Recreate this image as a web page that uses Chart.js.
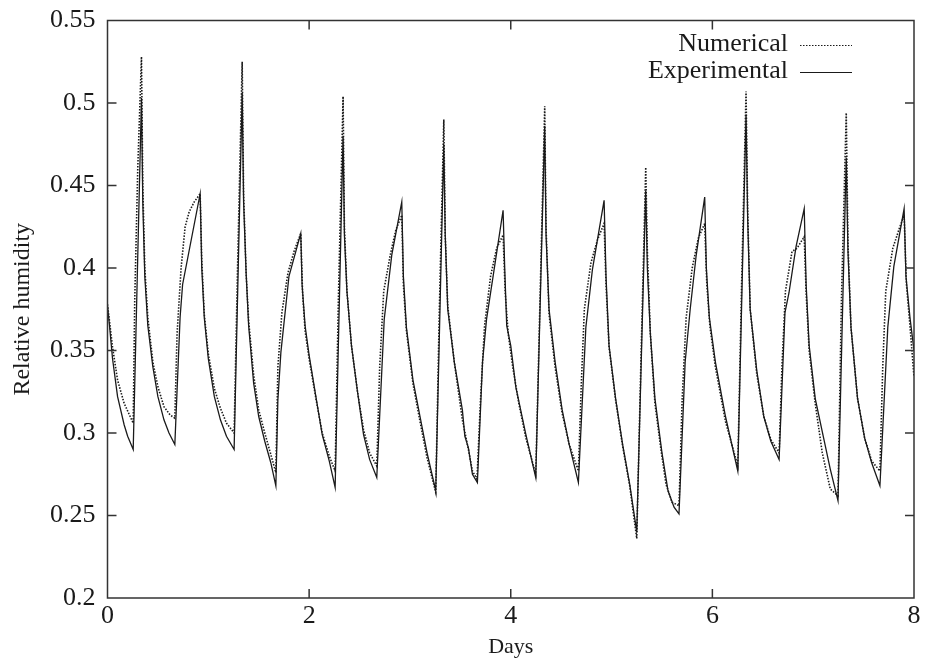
<!DOCTYPE html>
<html>
<head>
<meta charset="utf-8">
<script src="https://cdn.jsdelivr.net/npm/chart.js@4.4.1/dist/chart.umd.min.js"></script>
<style>
  html, body { margin: 0; padding: 0; background: #fff; }
  #wrap { width: 927px; height: 660px; position: relative; }
</style>
</head>
<body>
<div id="wrap"><canvas id="rh"></canvas></div>
<script>
// x ticks (days) and y ticks (relative humidity)
const dayTicks = [0, 2, 4, 6, 8];
const rhTicks = [0.2, 0.25, 0.3, 0.35, 0.4, 0.45, 0.5, 0.55];

// experimental series
const expDays = [
  0.000, 0.020, 0.050, 0.100, 0.165, 0.200, 0.255, 0.337, 0.350, 0.370, 0.400, 0.450, 0.500, 0.560, 0.610, 0.668,
  0.720, 0.745, 0.919, 0.935, 0.960, 1.000, 1.060, 1.120, 1.180, 1.256, 1.336, 1.350, 1.375, 1.400, 1.450, 1.500,
  1.560, 1.620, 1.670, 1.690, 1.720, 1.800, 1.917, 1.930, 1.960, 2.000, 2.070, 2.130, 2.200, 2.258, 2.337, 2.350,
  2.375, 2.420, 2.480, 2.540, 2.600, 2.671, 2.745, 2.820, 2.919, 2.935, 2.965, 3.030, 3.100, 3.170, 3.256, 3.336,
  3.350, 3.375, 3.440, 3.520, 3.545, 3.580, 3.620, 3.669, 3.720, 3.760, 3.830, 3.924, 3.940, 3.960, 4.000, 4.050,
  4.150, 4.248, 4.337, 4.350, 4.380, 4.440, 4.510, 4.580, 4.671, 4.745, 4.810, 4.926, 4.945, 4.975, 5.040, 5.110,
  5.180, 5.250, 5.339, 5.355, 5.385, 5.430, 5.500, 5.560, 5.620, 5.669, 5.730, 5.780, 5.840, 5.924, 5.940, 5.970,
  6.030, 6.130, 6.252, 6.334, 6.350, 6.375, 6.440, 6.510, 6.580, 6.662, 6.720, 6.760, 6.830, 6.911, 6.930, 6.960,
  7.020, 7.100, 7.170, 7.246, 7.328, 7.345, 7.375, 7.440, 7.510, 7.580, 7.662, 7.740, 7.800, 7.902, 7.920, 7.960,
  8.000
];
const expRH = [
  0.377, 0.365, 0.345, 0.322, 0.305, 0.298, 0.290, 0.503, 0.440, 0.395, 0.365, 0.340, 0.322, 0.308, 0.300, 0.293,
  0.370, 0.390, 0.445, 0.400, 0.370, 0.345, 0.322, 0.308, 0.298, 0.290, 0.506, 0.440, 0.397, 0.365, 0.330, 0.310,
  0.295, 0.282, 0.268, 0.320, 0.349, 0.395, 0.421, 0.390, 0.365, 0.347, 0.321, 0.299, 0.283, 0.267, 0.480, 0.420,
  0.386, 0.353, 0.325, 0.299, 0.284, 0.273, 0.369, 0.408, 0.440, 0.395, 0.364, 0.332, 0.310, 0.288, 0.265, 0.475,
  0.420, 0.375, 0.343, 0.314, 0.298, 0.291, 0.275, 0.270, 0.343, 0.369, 0.397, 0.435, 0.400, 0.365, 0.353, 0.328,
  0.299, 0.273, 0.486, 0.420, 0.375, 0.343, 0.314, 0.293, 0.270, 0.364, 0.399, 0.441, 0.395, 0.353, 0.321, 0.293,
  0.269, 0.240, 0.447, 0.400, 0.360, 0.321, 0.288, 0.265, 0.255, 0.251, 0.343, 0.375, 0.408, 0.443, 0.400, 0.370,
  0.343, 0.310, 0.277, 0.493, 0.430, 0.375, 0.338, 0.310, 0.295, 0.284, 0.373, 0.385, 0.413, 0.436, 0.390, 0.353,
  0.321, 0.298, 0.278, 0.259, 0.467, 0.410, 0.364, 0.321, 0.297, 0.282, 0.268, 0.364, 0.401, 0.436, 0.395, 0.370,
  0.350
];

// numerical series
const numDays = [
  0.000, 0.050, 0.100, 0.165, 0.255, 0.270, 0.300, 0.337, 0.350, 0.370, 0.400, 0.450, 0.500, 0.560, 0.620, 0.668,
  0.690, 0.730, 0.770, 0.810, 0.860, 0.919, 0.935, 0.960, 1.000, 1.060, 1.120, 1.180, 1.256, 1.290, 1.336, 1.350,
  1.375, 1.400, 1.450, 1.500, 1.560, 1.620, 1.670, 1.690, 1.730, 1.790, 1.850, 1.917, 1.935, 1.960, 2.000, 2.070,
  2.130, 2.200, 2.258, 2.290, 2.337, 2.350, 2.375, 2.420, 2.480, 2.540, 2.600, 2.671, 2.700, 2.740, 2.805, 2.860,
  2.919, 2.935, 2.965, 3.030, 3.100, 3.170, 3.256, 3.290, 3.336, 3.350, 3.375, 3.440, 3.520, 3.580, 3.620, 3.665,
  3.700, 3.740, 3.800, 3.860, 3.924, 3.945, 3.975, 4.020, 4.080, 4.150, 4.248, 4.290, 4.337, 4.350, 4.380, 4.440,
  4.510, 4.580, 4.671, 4.700, 4.730, 4.795, 4.860, 4.926, 4.945, 4.975, 5.040, 5.110, 5.180, 5.250, 5.290, 5.339,
  5.355, 5.385, 5.430, 5.490, 5.540, 5.600, 5.669, 5.700, 5.740, 5.800, 5.860, 5.924, 5.945, 5.975, 6.030, 6.130,
  6.252, 6.290, 6.334, 6.350, 6.375, 6.440, 6.510, 6.580, 6.662, 6.690, 6.725, 6.790, 6.840, 6.911, 6.930, 6.960,
  7.020, 7.090, 7.170, 7.246, 7.280, 7.328, 7.345, 7.375, 7.440, 7.510, 7.580, 7.662, 7.690, 7.720, 7.790, 7.860,
  7.902, 7.925, 7.960, 8.000
];
const numRH = [
  0.378, 0.352, 0.332, 0.318, 0.306, 0.380, 0.460, 0.528, 0.450, 0.400, 0.370, 0.343, 0.328, 0.316, 0.311, 0.309,
  0.360, 0.400, 0.425, 0.434, 0.440, 0.445, 0.405, 0.372, 0.348, 0.327, 0.315, 0.306, 0.300, 0.400, 0.525, 0.445,
  0.397, 0.368, 0.335, 0.314, 0.300, 0.287, 0.276, 0.340, 0.373, 0.397, 0.410, 0.421, 0.385, 0.362, 0.345, 0.320,
  0.300, 0.286, 0.277, 0.380, 0.504, 0.425, 0.386, 0.353, 0.325, 0.302, 0.288, 0.280, 0.340, 0.386, 0.408, 0.423,
  0.432, 0.390, 0.362, 0.330, 0.307, 0.285, 0.264, 0.370, 0.490, 0.420, 0.377, 0.343, 0.308, 0.290, 0.277, 0.272,
  0.320, 0.365, 0.395, 0.412, 0.420, 0.385, 0.360, 0.340, 0.318, 0.297, 0.275, 0.380, 0.498, 0.425, 0.372, 0.340,
  0.312, 0.293, 0.277, 0.330, 0.375, 0.403, 0.417, 0.427, 0.390, 0.352, 0.320, 0.292, 0.268, 0.236, 0.340, 0.461,
  0.410, 0.360, 0.318, 0.290, 0.269, 0.258, 0.256, 0.320, 0.370, 0.400, 0.418, 0.427, 0.390, 0.365, 0.340, 0.307,
  0.280, 0.390, 0.507, 0.435, 0.375, 0.336, 0.310, 0.296, 0.288, 0.340, 0.386, 0.410, 0.412, 0.419, 0.385, 0.350,
  0.318, 0.288, 0.266, 0.262, 0.380, 0.494, 0.415, 0.364, 0.321, 0.297, 0.283, 0.277, 0.340, 0.386, 0.412, 0.425,
  0.432, 0.390, 0.365, 0.334
];

const SERIF = '"Liberation Serif", "DejaVu Serif", serif';
const INK = '#1a1a1a';

const toPoints = (xs, ys) => xs.map((x, i) => ({ x, y: ys[i] }));

// gnuplot-like frame: full box plus inward ticks on all four sides
const frameTicks = {
  id: 'frameTicks',
  afterDraw(chart) {
    const { ctx, chartArea: a, scales } = chart;
    ctx.save();
    ctx.strokeStyle = '#333';
    ctx.lineWidth = 1.5;
    ctx.strokeRect(a.left, a.top, a.right - a.left, a.bottom - a.top);
    ctx.beginPath();
    const tl = 9;
    dayTicks.forEach((v) => {
      if (v === dayTicks[0] || v === dayTicks[dayTicks.length - 1]) return;
      const px = scales.x.getPixelForValue(v);
      ctx.moveTo(px, a.bottom); ctx.lineTo(px, a.bottom - tl);
      ctx.moveTo(px, a.top); ctx.lineTo(px, a.top + tl);
    });
    rhTicks.forEach((v) => {
      if (v === rhTicks[0] || v === rhTicks[rhTicks.length - 1]) return;
      const py = scales.y.getPixelForValue(v);
      ctx.moveTo(a.left, py); ctx.lineTo(a.left + tl, py);
      ctx.moveTo(a.right, py); ctx.lineTo(a.right - tl, py);
    });
    ctx.stroke();
    ctx.restore();
  }
};

// key: label first, line sample after, top-right inside the frame
const keyBox = {
  id: 'keyBox',
  afterDraw(chart) {
    const { ctx, chartArea: a } = chart;
    ctx.save();
    ctx.font = '26px ' + SERIF;
    ctx.fillStyle = INK;
    ctx.textAlign = 'right';
    ctx.textBaseline = 'middle';
    const textRight = a.right - 126;
    const x0 = a.right - 114;
    const x1 = a.right - 62;
    chart.data.datasets.forEach((ds, i) => {
      const y = a.top + 24 + i * 27;
      ctx.fillText(ds.label, textRight, y);
      ctx.beginPath();
      ctx.strokeStyle = ds.borderColor;
      ctx.lineWidth = 1.2;
      ctx.setLineDash(ds.borderDash || []);
      ctx.moveTo(x0, y + 1);
      ctx.lineTo(x1, y + 1);
      ctx.stroke();
    });
    ctx.restore();
  }
};

new Chart(document.getElementById('rh'), {
  type: 'line',
  data: {
    datasets: [
      {
        label: 'Numerical',
        data: toPoints(numDays, numRH),
        borderColor: INK,
        borderWidth: 1.6,
        borderDash: [1.5, 1.5],
        pointRadius: 0,
        tension: 0,
        fill: false
      },
      {
        label: 'Experimental',
        data: toPoints(expDays, expRH),
        borderColor: INK,
        borderWidth: 1.3,
        pointRadius: 0,
        tension: 0,
        fill: false
      }
    ]
  },
  options: {
    responsive: true,
    maintainAspectRatio: false,
    animation: false,
    layout: { padding: { left: 8, right: 13, top: 20.5, bottom: 0 } },
    plugins: {
      legend: { display: false },
      tooltip: { enabled: false }
    },
    scales: {
      x: {
        type: 'linear',
        min: 0,
        max: 8,
        afterBuildTicks: (s) => { s.ticks = dayTicks.map((v) => ({ value: v })); },
        afterFit: (s) => { s.height = 62; s.paddingLeft = 0; s.paddingRight = 0; },
        grid: { display: false, drawTicks: false },
        border: { display: false },
        ticks: { color: INK, padding: 3, font: { family: SERIF, size: 26 } },
        title: { display: true, text: 'Days', color: INK, padding: { top: -4, bottom: 0 }, font: { family: SERIF, size: 22 } }
      },
      y: {
        type: 'linear',
        min: 0.2,
        max: 0.55,
        afterBuildTicks: (s) => { s.ticks = rhTicks.map((v) => ({ value: v })); },
        afterFit: (s) => { s.width = 99.5; s.paddingTop = 0; s.paddingBottom = 0; },
        grid: { display: false, drawTicks: false },
        border: { display: false },
        ticks: {
          color: INK,
          padding: 12,
          font: { family: SERIF, size: 26 },
          callback: (v) => String(Number(v.toFixed(2)))
        },
        title: { display: true, text: 'Relative humidity', color: INK, padding: { top: 0, bottom: 0 }, font: { family: SERIF, size: 24 } }
      }
    }
  },
  plugins: [frameTicks, keyBox]
});
</script>
</body>
</html>
